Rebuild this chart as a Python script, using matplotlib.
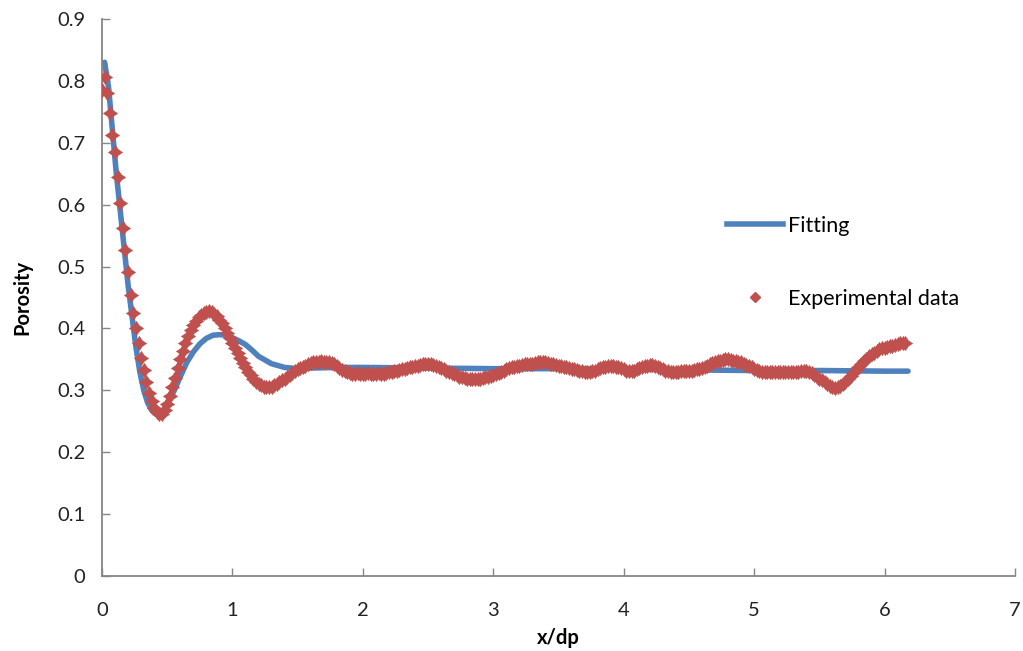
import numpy as np
import matplotlib.pyplot as plt
from matplotlib.lines import Line2D
from matplotlib.path import Path

# Curva de ajuste (Fitting)
x_fit = [0.02, 0.05, 0.08, 0.11, 0.14, 0.17, 0.20, 0.23, 0.26, 0.29, 0.32, 0.35,
         0.38, 0.41, 0.44, 0.47, 0.50, 0.55, 0.60, 0.65, 0.70, 0.75, 0.80, 0.85,
         0.90, 0.95, 1.00, 1.05, 1.10, 1.15, 1.20, 1.30, 1.40, 1.50, 1.60, 1.80,
         2.00, 2.50, 3.00, 3.50, 4.00, 4.50, 5.00, 5.50, 6.00, 6.18]
y_fit = [0.830, 0.790, 0.720, 0.650, 0.590, 0.530, 0.470, 0.420, 0.370, 0.330, 0.300, 0.280,
         0.268, 0.262, 0.262, 0.268, 0.278, 0.298, 0.322, 0.345, 0.362, 0.375, 0.384, 0.389,
         0.390, 0.389, 0.385, 0.380, 0.374, 0.365, 0.355, 0.343, 0.337, 0.335, 0.336, 0.337,
         0.337, 0.336, 0.335, 0.335, 0.334, 0.333, 0.332, 0.332, 0.331, 0.331]

# Datos experimentales (paso 0.02 en x/dp)
y_exp = [
    0.785, 0.806, 0.780, 0.748, 0.712, 0.685, 0.645, 0.602, 0.562, 0.527,
    0.491, 0.454, 0.425, 0.400, 0.376, 0.352, 0.333, 0.313, 0.296, 0.283,
    0.272, 0.265, 0.261, 0.262, 0.268, 0.278, 0.291, 0.305, 0.320, 0.336,
    0.350, 0.364, 0.377, 0.388, 0.397, 0.405, 0.412, 0.418, 0.422, 0.425,
    0.427, 0.428, 0.427, 0.424, 0.420, 0.414, 0.408, 0.400, 0.392, 0.384,
    0.376, 0.368, 0.360, 0.352, 0.344, 0.337, 0.330, 0.324, 0.319, 0.314,
    0.311, 0.308, 0.306, 0.305, 0.305, 0.306, 0.308, 0.310, 0.313, 0.316,
    0.319, 0.322, 0.325, 0.328, 0.331, 0.334, 0.336, 0.338, 0.340, 0.342,
    0.344, 0.345, 0.346, 0.346, 0.347, 0.346, 0.346, 0.345, 0.344, 0.342,
    0.339, 0.336, 0.333, 0.331, 0.329, 0.328, 0.327, 0.327, 0.328, 0.327,
    0.326, 0.327, 0.328, 0.327, 0.326, 0.327, 0.328, 0.327, 0.327, 0.328,
    0.329, 0.330, 0.331, 0.332, 0.333, 0.334, 0.335, 0.336, 0.337, 0.338,
    0.339, 0.340, 0.341, 0.342, 0.343, 0.343, 0.342, 0.341, 0.340, 0.338,
    0.336, 0.334, 0.332, 0.330, 0.328, 0.326, 0.324, 0.322, 0.321, 0.320,
    0.319, 0.318, 0.318, 0.318, 0.319, 0.319, 0.320, 0.321, 0.322, 0.323,
    0.324, 0.326, 0.328, 0.330, 0.332, 0.334, 0.336, 0.337, 0.338, 0.339,
    0.340, 0.341, 0.342, 0.342, 0.343, 0.343, 0.344, 0.345, 0.345, 0.345,
    0.345, 0.344, 0.343, 0.342, 0.341, 0.340, 0.339, 0.338, 0.337, 0.336,
    0.335, 0.334, 0.333, 0.332, 0.331, 0.330, 0.330, 0.330, 0.331, 0.332,
    0.334, 0.336, 0.337, 0.338, 0.339, 0.339, 0.339, 0.338, 0.337, 0.336,
    0.334, 0.332, 0.331, 0.331, 0.332, 0.334, 0.336, 0.338, 0.339, 0.340,
    0.341, 0.341, 0.340, 0.338, 0.336, 0.334, 0.332, 0.331, 0.330, 0.330,
    0.330, 0.330, 0.331, 0.331, 0.331, 0.331, 0.332, 0.333, 0.334, 0.335,
    0.336, 0.338, 0.340, 0.342, 0.344, 0.345, 0.347, 0.348, 0.349, 0.350,
    0.350, 0.349, 0.348, 0.347, 0.346, 0.345, 0.343, 0.341, 0.339, 0.337,
    0.335, 0.333, 0.331, 0.330, 0.329, 0.329, 0.329, 0.329, 0.330, 0.329,
    0.329, 0.329, 0.330, 0.329, 0.329, 0.329, 0.330, 0.330, 0.331, 0.331,
    0.331, 0.330, 0.328, 0.325, 0.322, 0.319, 0.316, 0.313, 0.310, 0.307,
    0.305, 0.304, 0.305, 0.307, 0.310, 0.314, 0.318, 0.323, 0.328, 0.333,
    0.338, 0.343, 0.347, 0.351, 0.355, 0.358, 0.361, 0.364, 0.366, 0.368,
    0.369, 0.370, 0.371, 0.372, 0.373, 0.375, 0.376, 0.377, 0.377,
]
x_exp = np.linspace(0.0, 6.16, len(y_exp))

azul = '#4F81BD'
rojo = '#C0504D'
gris = '#868686'

plt.rcParams['font.family'] = ['Lato', 'DejaVu Sans']

# marcador tipo estrella de 4 puntas (como se ve en el grafico)
estrella = Path([(0, 1), (0.4, 0.4), (1, 0), (0.4, -0.4), (0, -1),
                 (-0.4, -0.4), (-1, 0), (-0.4, 0.4), (0, 1)],
                [Path.MOVETO] + [Path.LINETO] * 7 + [Path.CLOSEPOLY])

fig = plt.figure(figsize=(10.23, 6.51), dpi=100)
ax = fig.add_axes([102 / 1023, 75 / 651, 913 / 1023, 557 / 651])

ax.plot(x_fit, y_fit, color=azul, linewidth=4, solid_capstyle='round', zorder=2)
ax.plot(x_exp, y_exp, linestyle='none', marker=estrella, markersize=11,
        color=rojo, markeredgewidth=0, zorder=3)

ax.set_xlim(0, 7)
ax.set_ylim(0, 0.9)
ax.set_xticks(range(0, 8))
ax.set_yticks(np.round(np.arange(0, 0.91, 0.1), 1))
ax.set_yticklabels(['0'] + [f'{v:.1f}' for v in np.arange(0.1, 0.91, 0.1)])

for s in ['top', 'right']:
    ax.spines[s].set_visible(False)
for s in ['left', 'bottom']:
    ax.spines[s].set_color(gris)
    ax.spines[s].set_linewidth(1.3)

ax.tick_params(axis='both', direction='in', length=6, width=1, color=gris,
               labelsize=14.5, labelcolor='#222222')
ax.tick_params(axis='x', pad=19)
ax.tick_params(axis='y', pad=12)

ax.set_xlabel('x/dp', fontsize=14.5, fontweight='bold', labelpad=6)
ax.set_ylabel('Porosity', fontsize=14.5, fontweight='bold', labelpad=18)

handles = [Line2D([], [], color=azul, linewidth=4),
           Line2D([], [], color=rojo, marker='D', markersize=5, linestyle='none')]
fig.legend(handles, ['Fitting', 'Experimental data'], loc='upper left',
           bbox_to_anchor=(727 / 1023, 1 - 216 / 651), frameon=False,
           fontsize=15.5, handlelength=2.6, handletextpad=0.25,
           labelspacing=2.45, borderpad=0, borderaxespad=0)

plt.savefig('out.png', dpi=100)
